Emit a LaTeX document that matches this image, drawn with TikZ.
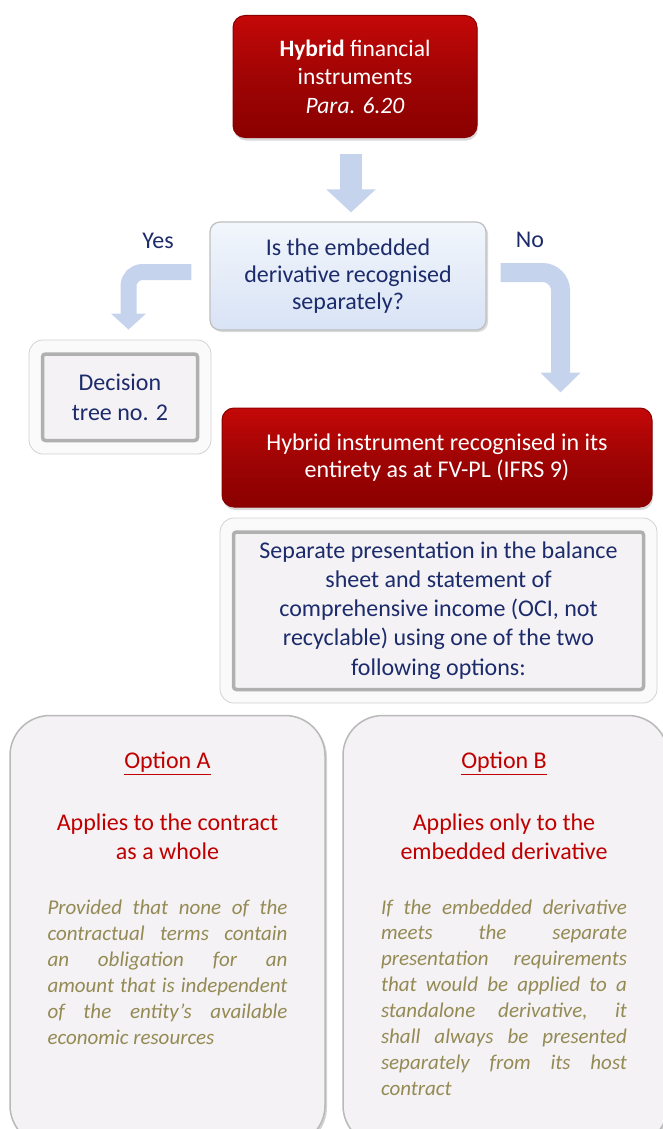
\documentclass[tikz,border=0pt]{standalone}
\usepackage{fontspec}
\setmainfont{Carlito}
\usetikzlibrary{arrows.meta,shapes,calc,positioning,shadows}

\definecolor{boxnavy}{RGB}{28,43,107}
\definecolor{headred}{RGB}{192,0,0}
\definecolor{notetan}{RGB}{148,138,84}
\definecolor{arrowblue}{RGB}{197,211,236}
\definecolor{paper}{RGB}{244,242,244}
\definecolor{redtop}{RGB}{196,8,8}
\definecolor{redmid}{RGB}{160,4,4}
\definecolor{redbot}{RGB}{138,0,0}
\definecolor{asktop}{RGB}{242,246,252}
\definecolor{askbot}{RGB}{216,227,245}

\newcommand{\fillline}[2][240pt]{\makebox[#1][s]{#2}\\}

\begin{document}
\begin{tikzpicture}[x=1pt, y=-1pt, node distance=200pt,
    redbox/.style={rectangle, rounded corners=12pt, draw=redbot, line width=1pt, top color=redtop, bottom color=redbot, middle color=redmid, text=white, align=center, inner sep=0pt, drop shadow={shadow xshift=1pt, shadow yshift=-3pt, opacity=0.3}},
    askbox/.style={rectangle, rounded corners=10pt, draw=gray!50, line width=1.2pt, top color=asktop, bottom color=askbot, text=boxnavy, align=center, inner sep=0pt, drop shadow={shadow xshift=2pt, shadow yshift=-2pt, opacity=0.3}},
    framebox/.style={rectangle, rounded corners=14pt, draw=gray!35, line width=0.8pt, fill=gray!4, text=boxnavy, align=center, inner sep=0pt,
        path picture={\draw[gray!62, line width=3.5pt, fill=paper, rounded corners=3pt] ([shift={(13.5pt,-14pt)}]path picture bounding box.north west) rectangle ([shift={(-13.5pt,13.5pt)}]path picture bounding box.south east);}},
    optbox/.style={rectangle, rounded corners=40pt, draw=gray!55, line width=1.5pt, fill=paper, inner sep=0pt, drop shadow={shadow xshift=2pt, shadow yshift=-2pt, opacity=0.35}},
    fatarrow/.style={draw=arrowblue, line cap=butt},
    answer/.style={text=boxnavy, font=\fontsize{24}{29}\selectfont},
    opttitle/.style={text=headred, font=\fontsize{24}{29}\selectfont},
    opthead/.style={text=headred, align=center, font=\fontsize{24}{28.5}\selectfont},
    optnote/.style={text=notetan, align=justify, inner sep=0pt, font=\fontsize{21}{25.9}\selectfont\itshape}]

    \useasboundingbox (0,0) rectangle (663,1129);

    \node[redbox, minimum width=244pt, minimum height=122pt, font=\fontsize{23.5}{28.5}\selectfont] (hybrid) at (355,76.5) {\textbf{Hybrid} financial\\instruments\\\textit{Para. 6.20}};
    \node[askbox, below of=hybrid, node distance=199.5pt, xshift=-7pt, minimum width=276pt, minimum height=108pt, font=\fontsize{24}{27}\selectfont] (question) {Is the embedded\\derivative recognised\\separately?};
    \node[framebox, below of=question, node distance=121pt, xshift=-228pt, minimum width=182pt, minimum height=114pt, font=\fontsize{24}{30}\selectfont] (tree) {Decision\\tree no. 2};
    \node[redbox, below of=question, node distance=181.5pt, xshift=89pt, minimum width=430pt, minimum height=99pt, font=\fontsize{24}{27.5}\selectfont] (fvpl) {Hybrid instrument recognised in its\\entirety as at FV-PL (IFRS 9)};
    \node[framebox, below of=fvpl, node distance=153pt, xshift=1.5pt, minimum width=437pt, minimum height=185pt, font=\fontsize{24}{29.2}\selectfont] (separate) {Separate presentation in the balance\\sheet and statement of\\comprehensive income (OCI, not\\recyclable) using one of the two\\following options:};

    \node[optbox, below of=separate, node distance=320pt, xshift=-271pt, minimum width=315pt, minimum height=430pt] (optA) {};
    \node[optbox, right of=optA, node distance=338pt, minimum width=325pt, minimum height=430pt] (optB) {};

    \node[opttitle, above of=optA, node distance=167pt] (titleA) {\underline{Option A}};
    \node[opthead, below of=titleA, node distance=73pt] (headA) {Applies to the contract\\as a whole};
    \node[optnote, text width=240pt, below of=headA, node distance=136pt] (noteA) {\fillline{Provided that none of the}\fillline{contractual terms contain}\fillline{an obligation for an}\fillline{amount that is independent}\fillline{of the entity’s available}economic resources};

    \node[opttitle, above of=optB, node distance=167pt, xshift=-1.5pt] (titleB) {\underline{Option B}};
    \node[opthead, below of=titleB, node distance=73pt] (headB) {Applies only to the\\embedded derivative};
    \node[optnote, text width=246pt, below of=headB, node distance=161pt] (noteB) {\fillline[246pt]{If the embedded derivative}\fillline[246pt]{meets the separate}\fillline[246pt]{presentation requirements}\fillline[246pt]{that would be applied to a}\fillline[246pt]{standalone derivative, it}\fillline[246pt]{shall always be presented}\fillline[246pt]{separately from its host}contract};

    \node[answer] (yes) at (158,241) {Yes};
    \node[answer] (no) at (530,240) {No};

    \draw[fatarrow, line width=22pt, -{Triangle[width=48pt,length=23pt]}] ([xshift=-4pt,yshift=-16pt]hybrid.south) -- ([xshift=3pt,yshift=9pt]question.north);
    \draw[fatarrow, line width=16pt, rounded corners=14pt, -{Triangle[width=34pt,length=16pt]}] ([xshift=-18pt,yshift=4pt]question.west) -| ([xshift=8.5pt,yshift=10pt]tree.north);
    \draw[fatarrow, line width=19pt, rounded corners=18pt, -{Triangle[width=39pt,length=20pt]}] ([xshift=14pt,yshift=3.5pt]question.east) -| ([xshift=123.5pt,yshift=15pt]fvpl.north);

\end{tikzpicture}
\end{document}
